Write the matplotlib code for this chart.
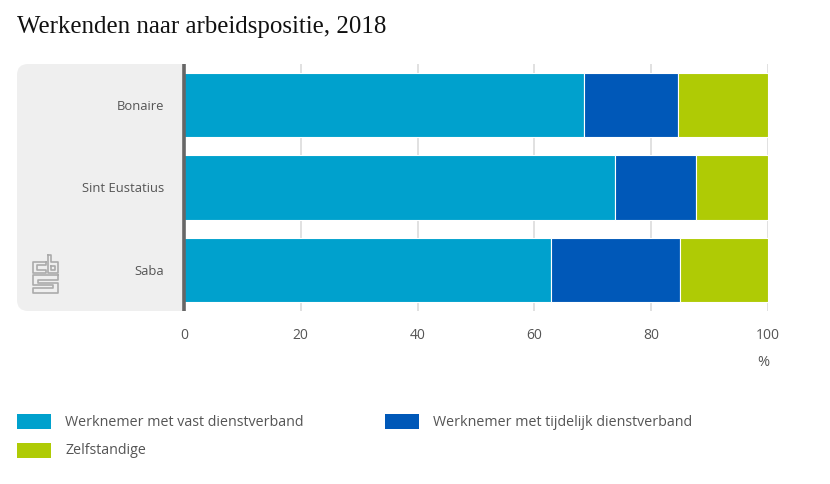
import matplotlib
matplotlib.use("Agg")
import matplotlib.pyplot as plt
from matplotlib.patches import FancyBboxPatch, Rectangle
from matplotlib.lines import Line2D

W, H = 830, 484
categories = ["Bonaire", "Sint Eustatius", "Saba"]
vast = [68.5, 73.8, 62.8]
tijdelijk = [16.1, 13.9, 22.1]
zelfstandig = [15.4, 12.3, 15.1]
series_names = ["Werknemer met vast dienstverband", "Werknemer met tijdelijk dienstverband", "Zelfstandige"]
colors = ["#00A1CD", "#0058B8", "#AFCB05"]
ticks = [0, 20, 40, 60, 80, 100]
TXT = "#555555"
FONT = "Open Sans"

fig = plt.figure(figsize=(W / 100, H / 100), dpi=100, facecolor="white")
def fx(x): return x / W
def fy(y): return 1 - y / H

# grey panel behind category labels: rounded on the left, square at the axis
fig.add_artist(FancyBboxPatch((17, H - 311), 40, 247, boxstyle="round,pad=0,rounding_size=11",
                              transform=None, fc="#EFEFEF", ec="none", zorder=-2))
fig.add_artist(Rectangle((35, H - 311), 149, 247, transform=None, fc="#EFEFEF", ec="none", zorder=-2))

ax = fig.add_axes([fx(184), fy(311), fx(768 - 184), (311 - 64) / H])
ax.patch.set_alpha(0)
left = [0, 0, 0]
for vals, c, n in zip([vast, tijdelijk, zelfstandig], colors, series_names):
    ax.barh(categories, vals, left=left, height=0.78, color=c, edgecolor="white", linewidth=0.8, label=n, zorder=3)
    left = [a + b for a, b in zip(left, vals)]
ax.set_ylim(2.5, -0.5)
ax.set_xlim(0, 100)
ax.set_xticks(ticks)
ax.grid(axis="x", color="#E1E1E1", linewidth=1.4, zorder=1)
for gl in ax.get_xgridlines()[:1]:
    gl.set_visible(False)
for s in ["top", "right", "bottom"]:
    ax.spines[s].set_visible(False)
ax.spines["left"].set_color("#666666")
ax.spines["left"].set_linewidth(2.6)
ax.spines["left"].set_capstyle("butt")
ax.spines["left"].set_zorder(5)
ax.tick_params(axis="both", length=0, labelcolor=TXT)
ax.tick_params(axis="x", pad=12, labelsize=10)
ax.tick_params(axis="y", pad=14.5, labelsize=9.4)
for t in ax.get_xticklabels() + ax.get_yticklabels():
    t.set_fontfamily(FONT)

fig.text(fx(17), fy(26.5), "Werkenden naar arbeidspositie, 2018", family="Liberation Serif",
         fontsize=17.9, color="#111111", va="center", ha="left")
fig.text(fx(763), fy(363), "%", family=FONT, fontsize=10.5, color=TXT, ha="center", va="center")

# legend
handles, labels = ax.get_legend_handles_labels()
pos = [(17, 421), (385, 421), (17, 450)]
for h, l, (x, y) in zip(handles, labels, pos):
    fig.add_artist(Rectangle((x, H - y - 7.5), 34, 15, transform=None,
                             fc=h.patches[0].get_facecolor(), ec="none"))
    fig.text(fx(x + 48), fy(y + 1), l, family=FONT, fontsize=10.25, color=TXT, va="center", ha="left")

# logo (decorative)
logo = [
    [(46, 262), (33, 262), (33, 273), (46, 273), (46, 270), (37, 270), (37, 265), (46, 265), (46, 262)],
    [(48, 255), (51, 255), (51, 262), (58, 262), (58, 273), (48, 273), (48, 255)],
    [(51, 265.5), (54.5, 265.5), (54.5, 270), (51, 270), (51, 265.5)],
    [(58, 275), (33, 275), (33, 285), (53, 285), (53, 288), (33, 288), (33, 293), (58, 293), (58, 283), (38, 283), (38, 280), (58, 280), (58, 275)],
]
for pts in logo:
    xs, ys = zip(*pts)
    fig.add_artist(Line2D(list(xs), [H - y for y in ys], transform=None, color="#ABABAB", lw=1.2))

fig.savefig("out.png", dpi=100, facecolor="white")
